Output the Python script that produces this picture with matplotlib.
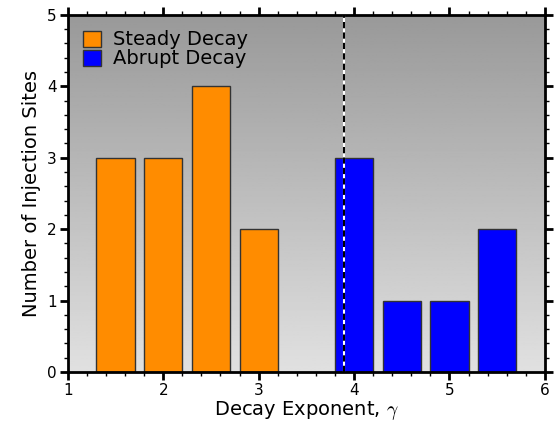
import numpy as np
import matplotlib
matplotlib.use('Agg')
import matplotlib.pyplot as plt
from matplotlib.ticker import MultipleLocator

plt.rcParams['mathtext.fontset'] = 'cm'

steady_x = [1.5, 2.0, 2.5, 3.0]
steady_n = [3, 3, 4, 2]
abrupt_x = [4.0, 4.5, 5.0, 5.5]
abrupt_n = [3, 1, 1, 2]
gamma_split = 3.89

fig = plt.figure(figsize=(5.56, 4.26), dpi=100)
ax = fig.add_axes([0.122, 0.127, 0.858, 0.838])

# gradient background, dark at top
grad = np.linspace(0.88, 0.6, 256).reshape(-1, 1)
ax.imshow(grad, extent=[1, 6, 0, 5], origin='lower', cmap='gray', vmin=0, vmax=1,
          aspect='auto', zorder=0)

ax.bar(steady_x, steady_n, width=0.4, color='darkorange', edgecolor='#333333',
       linewidth=1, label='Steady Decay', zorder=2)
ax.bar(abrupt_x, abrupt_n, width=0.4, color='blue', edgecolor='#333333',
       linewidth=1, label='Abrupt Decay', zorder=2)

ax.axvline(gamma_split, color='white', lw=1.5, zorder=3)
ax.axvline(gamma_split, color='black', lw=1.5, ls=(0, (3, 2)), zorder=4)

ax.set_xlim(1, 6)
ax.set_ylim(0, 5)
ax.xaxis.set_major_locator(MultipleLocator(1))
ax.xaxis.set_minor_locator(MultipleLocator(0.2))
ax.yaxis.set_major_locator(MultipleLocator(1))
ax.yaxis.set_minor_locator(MultipleLocator(0.2))
ax.tick_params(which='both', direction='out', top=True, right=True, labelsize=11)
ax.tick_params(which='major', length=6, width=2, pad=2)
ax.tick_params(which='minor', length=3, width=1)
for s in ax.spines.values():
    s.set_linewidth(2)

ax.set_xlabel(r'Decay Exponent, $\gamma$', fontsize=14, labelpad=1)
ax.set_ylabel('Number of Injection Sites', fontsize=14, labelpad=4)
ax.legend(loc='upper left', frameon=False, fontsize=14, handlelength=0.9,
          handleheight=0.9, handletextpad=0.6, labelspacing=0.0, borderaxespad=0.4)

fig.savefig('out.png', dpi=100)
